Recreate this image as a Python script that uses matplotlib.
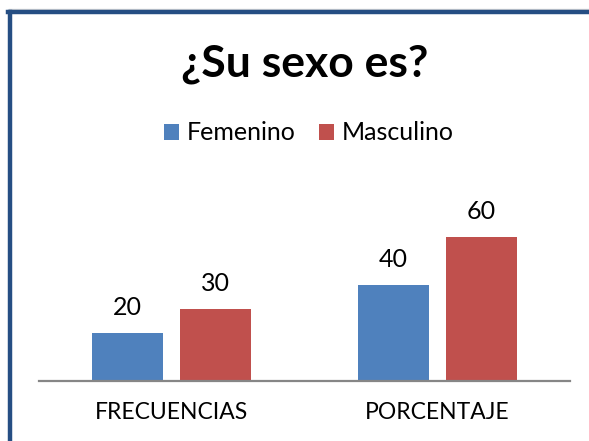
import matplotlib
matplotlib.use("Agg")
import matplotlib.pyplot as plt
from matplotlib.lines import Line2D
import numpy as np

# Data
categories = ["FRECUENCIAS", "PORCENTAJE"]
femenino = [20, 40]
masculino = [30, 60]
series_names = ["Femenino", "Masculino"]
colors = ["#4F81BD", "#C0504D"]

plt.rcParams['font.family'] = ['Lato', 'DejaVu Sans']

W, H = 589, 441
fig = plt.figure(figsize=(W / 100, H / 100), dpi=100)

# Chart frame (left and top edge only visible in the crop)
fig.add_artist(Line2D([8.5 / W, 1.0], [1 - 9 / H, 1 - 9 / H], color="#D9D9D9", lw=1.0))
fig.add_artist(Line2D([10 / W, 10 / W], [0, 1 - 12 / H], color="#254E83", lw=3.2))
fig.add_artist(Line2D([8 / W, 1.0], [1 - 12 / H, 1 - 12 / H], color="#254E83", lw=3.2))

# Plot area
ax = fig.add_axes([39 / W, 1 - 381 / H, (570 - 39) / W, 168 / H])
x = np.arange(len(categories))
width = 0.267
off = 0.166
b1 = ax.bar(x - off, femenino, width, color=colors[0], label=series_names[0])
b2 = ax.bar(x + off, masculino, width, color=colors[1], label=series_names[1])

for bars, vals in [(b1, femenino), (b2, masculino)]:
    for rect, v in zip(bars, vals):
        ax.annotate(str(v), (rect.get_x() + rect.get_width() / 2, rect.get_height()),
                    xytext=(0, 10), textcoords="offset points",
                    ha="center", va="bottom", fontsize=18)

ax.set_xlim(-0.5, 1.5)
ax.set_ylim(0, 70)
ax.set_xticks(x)
ax.set_xticklabels(categories, fontsize=16.5)
ax.tick_params(axis="x", length=0, pad=15)
ax.set_yticks([])
for s in ["top", "right", "left"]:
    ax.spines[s].set_visible(False)
ax.spines["bottom"].set_color("#868686")
ax.spines["bottom"].set_linewidth(1.6)

fig.text(305 / W, 1 - 64 / H, "¿Su sexo es?", ha="center", va="center",
         fontsize=32, fontweight="bold")

fig.legend(handles=[b1, b2], labels=series_names, loc="center",
           bbox_to_anchor=(309 / W, 1 - 133 / H), ncol=2, frameon=False,
           fontsize=18, handlelength=0.6, handleheight=0.6, handletextpad=0.3,
           columnspacing=0.95)

fig.savefig("out.png", dpi=100)
